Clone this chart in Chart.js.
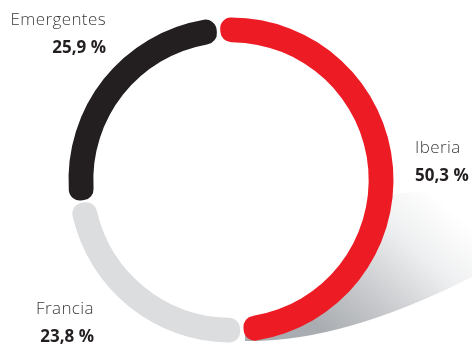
<!DOCTYPE html>
<html lang="es">
<head>
<meta charset="UTF-8">
<title>Ventas por región</title>
<script src="https://cdn.jsdelivr.net/npm/chart.js"></script>
<style>
    body {
        margin: 0;
        padding: 0;
        background: #ffffff;
    }

    .chart-box {
        position: relative;
        width: 472px;
        height: 347px;
    }
</style>
</head>
<body>
<div class="chart-box">
    <canvas id="regionChart"></canvas>
</div>

<script>
    // Reparto por región (%)
    const regions = ['Iberia', 'Francia', 'Emergentes'];
    const shares = [50.3, 23.8, 25.9];
    const shareLabels = ['50,3 %', '23,8 %', '25,9 %'];

    const ringColors = ['#ed1c24', '#dcdddf', '#231f20'];

    // where each name / percentage pair sits, and how it is aligned
    const labelSpots = [
        { x: 415, y: 153, align: 'left' },
        { x: 94, y: 314, align: 'right' },
        { x: 106, y: 25, align: 'right' }
    ];

    // soft floor shadow under the right-hand side of the ring
    const ringShadow = {
        id: 'ringShadow',
        beforeDatasetsDraw(chart) {
            const arc = chart.getDatasetMeta(0).data[0];
            if (!arc) return;
            const ctx = chart.ctx;
            const cx = arc.x, cy = arc.y, r = arc.outerRadius;
            const w = chart.width;

            ctx.save();
            ctx.beginPath();
            ctx.moveTo(cx + r * Math.cos(0.09), cy + r * Math.sin(0.09));
            ctx.quadraticCurveTo(cx + 200, cy + 8, w, cy + 20);
            ctx.lineTo(w, cy + 97);
            ctx.quadraticCurveTo(cx + 110, cy + 163, cx + 14, cy + r);
            ctx.arc(cx, cy, r - 6, Math.PI / 2 - 0.09, 0.09, true);
            ctx.closePath();

            const g = ctx.createLinearGradient(cx + 95, cy + 155, cx + 215, cy + 25);
            g.addColorStop(0, '#a9acb0');
            g.addColorStop(0.35, '#c9cbce');
            g.addColorStop(0.7, '#eeeff0');
            g.addColorStop(1, '#ffffff');
            ctx.fillStyle = g;
            ctx.fill();
            ctx.restore();
        }
    };

    // region names and percentages beside the ring
    const regionLabels = {
        id: 'regionLabels',
        afterDraw(chart) {
            const ctx = chart.ctx;
            ctx.save();
            ctx.textBaseline = 'alphabetic';
            regions.forEach((name, i) => {
                const spot = labelSpots[i];
                ctx.textAlign = spot.align;

                ctx.font = '300 17px "Open Sans"';
                ctx.letterSpacing = '0.4px';
                ctx.fillStyle = '#3b3b3d';
                ctx.fillText(name, spot.x, spot.y);

                ctx.font = 'bold 17px "Open Sans"';
                ctx.letterSpacing = '0px';
                ctx.fillStyle = '#231f20';
                ctx.fillText(shareLabels[i], spot.x, spot.y + 28);
            });
            ctx.restore();
        }
    };

    const ctx = document.getElementById('regionChart').getContext('2d');
    new Chart(ctx, {
        type: 'doughnut',
        data: {
            labels: regions,
            datasets: [{
                data: shares,
                backgroundColor: ringColors,
                borderWidth: 0,
                borderRadius: 11,
                spacing: 3
            }]
        },
        options: {
            responsive: true,
            maintainAspectRatio: false,
            animation: false,
            rotation: -5,
            radius: 161,
            cutout: 140,
            layout: {
                padding: { left: 0, right: 10, top: 13, bottom: 0 }
            },
            plugins: {
                legend: { display: false },
                tooltip: { enabled: false }
            }
        },
        plugins: [ringShadow, regionLabels]
    });
</script>
</body>
</html>
